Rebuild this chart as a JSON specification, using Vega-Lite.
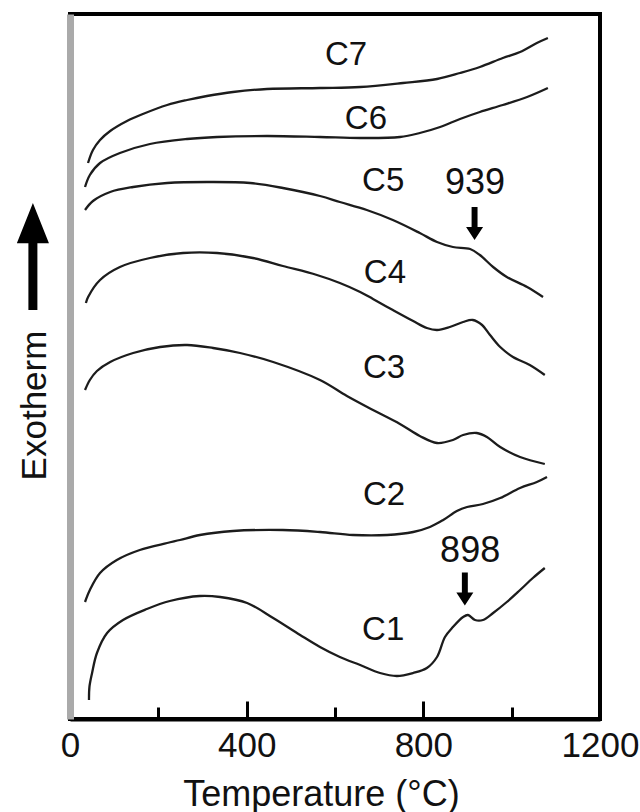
{
  "$schema": "https://vega.github.io/schema/vega-lite/v6.json",
  "autosize": {"type": "none"},
  "padding": {"left": 70, "top": 14, "right": 40, "bottom": 93},
  "width": 530,
  "height": 705,
  "config": {
    "font": "Liberation Sans",
    "view": {"stroke": "#000000", "strokeWidth": 4}
  },
  "datasets": {
    "curves": [
      {"s": "C7", "t": 40.8, "v": 556}, {"s": "C7", "t": 52, "v": 569}, {"s": "C7", "t": 68, "v": 579}, {"s": "C7", "t": 91, "v": 588}, {"s": "C7", "t": 129, "v": 598}, {"s": "C7", "t": 165, "v": 605}, {"s": "C7", "t": 220, "v": 614}, {"s": "C7", "t": 265, "v": 619}, {"s": "C7", "t": 310, "v": 623}, {"s": "C7", "t": 369, "v": 627}, {"s": "C7", "t": 446, "v": 630}, {"s": "C7", "t": 566, "v": 631}, {"s": "C7", "t": 657, "v": 632}, {"s": "C7", "t": 754, "v": 636}, {"s": "C7", "t": 831, "v": 640}, {"s": "C7", "t": 883, "v": 646}, {"s": "C7", "t": 928, "v": 652}, {"s": "C7", "t": 980, "v": 661}, {"s": "C7", "t": 1019, "v": 667}, {"s": "C7", "t": 1057, "v": 676}, {"s": "C7", "t": 1082, "v": 681},
      {"s": "C6", "t": 34, "v": 532}, {"s": "C6", "t": 45, "v": 544}, {"s": "C6", "t": 68, "v": 556}, {"s": "C6", "t": 113, "v": 566}, {"s": "C6", "t": 181, "v": 575}, {"s": "C6", "t": 265, "v": 580}, {"s": "C6", "t": 333, "v": 582}, {"s": "C6", "t": 446, "v": 583}, {"s": "C6", "t": 566, "v": 582}, {"s": "C6", "t": 657, "v": 581}, {"s": "C6", "t": 747, "v": 582}, {"s": "C6", "t": 792, "v": 586}, {"s": "C6", "t": 838, "v": 592}, {"s": "C6", "t": 883, "v": 600}, {"s": "C6", "t": 928, "v": 607}, {"s": "C6", "t": 980, "v": 614}, {"s": "C6", "t": 1035, "v": 622}, {"s": "C6", "t": 1082, "v": 631},
      {"s": "C5", "t": 34, "v": 509}, {"s": "C5", "t": 52, "v": 518}, {"s": "C5", "t": 91, "v": 527}, {"s": "C5", "t": 143, "v": 532}, {"s": "C5", "t": 220, "v": 536}, {"s": "C5", "t": 310, "v": 537}, {"s": "C5", "t": 408, "v": 536}, {"s": "C5", "t": 482, "v": 531}, {"s": "C5", "t": 566, "v": 523}, {"s": "C5", "t": 611, "v": 517}, {"s": "C5", "t": 672, "v": 509}, {"s": "C5", "t": 731, "v": 499}, {"s": "C5", "t": 792, "v": 486}, {"s": "C5", "t": 831, "v": 477}, {"s": "C5", "t": 867, "v": 472}, {"s": "C5", "t": 906, "v": 470}, {"s": "C5", "t": 928, "v": 464}, {"s": "C5", "t": 958, "v": 452}, {"s": "C5", "t": 989, "v": 442}, {"s": "C5", "t": 1035, "v": 432}, {"s": "C5", "t": 1071, "v": 422},
      {"s": "C4", "t": 36, "v": 416}, {"s": "C4", "t": 41, "v": 422}, {"s": "C4", "t": 68, "v": 439}, {"s": "C4", "t": 113, "v": 452}, {"s": "C4", "t": 181, "v": 461}, {"s": "C4", "t": 256, "v": 466}, {"s": "C4", "t": 333, "v": 466}, {"s": "C4", "t": 414, "v": 461}, {"s": "C4", "t": 482, "v": 453}, {"s": "C4", "t": 559, "v": 444}, {"s": "C4", "t": 611, "v": 436}, {"s": "C4", "t": 657, "v": 427}, {"s": "C4", "t": 686, "v": 420}, {"s": "C4", "t": 731, "v": 409}, {"s": "C4", "t": 777, "v": 398}, {"s": "C4", "t": 808, "v": 391}, {"s": "C4", "t": 831, "v": 389}, {"s": "C4", "t": 860, "v": 392}, {"s": "C4", "t": 890, "v": 397}, {"s": "C4", "t": 912, "v": 399}, {"s": "C4", "t": 933, "v": 394}, {"s": "C4", "t": 951, "v": 384}, {"s": "C4", "t": 974, "v": 372}, {"s": "C4", "t": 1003, "v": 362}, {"s": "C4", "t": 1041, "v": 354}, {"s": "C4", "t": 1075, "v": 344},
      {"s": "C3", "t": 34, "v": 329}, {"s": "C3", "t": 45, "v": 339}, {"s": "C3", "t": 61, "v": 348}, {"s": "C3", "t": 91, "v": 357}, {"s": "C3", "t": 143, "v": 366}, {"s": "C3", "t": 204, "v": 372}, {"s": "C3", "t": 265, "v": 374}, {"s": "C3", "t": 324, "v": 371}, {"s": "C3", "t": 385, "v": 366}, {"s": "C3", "t": 460, "v": 357}, {"s": "C3", "t": 566, "v": 339}, {"s": "C3", "t": 627, "v": 323}, {"s": "C3", "t": 686, "v": 309}, {"s": "C3", "t": 747, "v": 295}, {"s": "C3", "t": 792, "v": 283}, {"s": "C3", "t": 831, "v": 276}, {"s": "C3", "t": 867, "v": 279}, {"s": "C3", "t": 890, "v": 284}, {"s": "C3", "t": 921, "v": 286}, {"s": "C3", "t": 944, "v": 282}, {"s": "C3", "t": 974, "v": 272}, {"s": "C3", "t": 1019, "v": 262}, {"s": "C3", "t": 1075, "v": 255},
      {"s": "C2", "t": 34, "v": 117}, {"s": "C2", "t": 45, "v": 129}, {"s": "C2", "t": 68, "v": 146}, {"s": "C2", "t": 106, "v": 159}, {"s": "C2", "t": 158, "v": 169}, {"s": "C2", "t": 220, "v": 176}, {"s": "C2", "t": 249, "v": 179}, {"s": "C2", "t": 294, "v": 184}, {"s": "C2", "t": 369, "v": 188}, {"s": "C2", "t": 482, "v": 189}, {"s": "C2", "t": 566, "v": 187}, {"s": "C2", "t": 641, "v": 184}, {"s": "C2", "t": 718, "v": 184}, {"s": "C2", "t": 777, "v": 187}, {"s": "C2", "t": 815, "v": 192}, {"s": "C2", "t": 845, "v": 199}, {"s": "C2", "t": 876, "v": 208}, {"s": "C2", "t": 899, "v": 212}, {"s": "C2", "t": 935, "v": 215}, {"s": "C2", "t": 974, "v": 221}, {"s": "C2", "t": 1019, "v": 231}, {"s": "C2", "t": 1057, "v": 237}, {"s": "C2", "t": 1080, "v": 242},
      {"s": "C1", "t": 43, "v": 19}, {"s": "C1", "t": 44, "v": 32}, {"s": "C1", "t": 50, "v": 46}, {"s": "C1", "t": 61, "v": 66}, {"s": "C1", "t": 84, "v": 86}, {"s": "C1", "t": 120, "v": 99}, {"s": "C1", "t": 174, "v": 110}, {"s": "C1", "t": 226, "v": 118}, {"s": "C1", "t": 294, "v": 123}, {"s": "C1", "t": 340, "v": 122}, {"s": "C1", "t": 401, "v": 116}, {"s": "C1", "t": 460, "v": 101}, {"s": "C1", "t": 521, "v": 84}, {"s": "C1", "t": 566, "v": 72}, {"s": "C1", "t": 611, "v": 62}, {"s": "C1", "t": 657, "v": 54}, {"s": "C1", "t": 702, "v": 46}, {"s": "C1", "t": 740, "v": 43}, {"s": "C1", "t": 777, "v": 46}, {"s": "C1", "t": 808, "v": 51}, {"s": "C1", "t": 831, "v": 62}, {"s": "C1", "t": 849, "v": 82}, {"s": "C1", "t": 867, "v": 92}, {"s": "C1", "t": 890, "v": 102}, {"s": "C1", "t": 901, "v": 104}, {"s": "C1", "t": 917, "v": 99}, {"s": "C1", "t": 935, "v": 99}, {"s": "C1", "t": 958, "v": 106}, {"s": "C1", "t": 989, "v": 117}, {"s": "C1", "t": 1019, "v": 129}, {"s": "C1", "t": 1048, "v": 141}, {"s": "C1", "t": 1075, "v": 151}
    ],
    "curveLabels": [
      {"t": 625, "v": 664, "text": "C7"},
      {"t": 670, "v": 600, "text": "C6"},
      {"t": 709, "v": 538, "text": "C5"},
      {"t": 713, "v": 446, "text": "C4"},
      {"t": 711, "v": 351, "text": "C3"},
      {"t": 711, "v": 224, "text": "C2"},
      {"t": 709, "v": 89, "text": "C1"}
    ],
    "peakLabels": [
      {"t": 917, "v": 536, "text": "939"},
      {"t": 906, "v": 168, "text": "898"}
    ],
    "peakArrows": [
      {"t": 916, "v": 495.5},
      {"t": 894, "v": 130}
    ],
    "exoArrow": [
      {"t": -84, "v": 462.5}
    ]
  },
  "encoding": {
    "x": {
      "field": "t",
      "type": "quantitative",
      "scale": {"domain": [0, 1200], "nice": false, "zero": false},
      "axis": {
        "values": [0, 200, 400, 600, 800, 1000, 1200],
        "format": "d",
        "grid": false,
        "domainColor": "#000000",
        "domainWidth": 4,
        "tickColor": "#000000",
        "tickWidth": 3,
        "tickSize": {"condition": {"test": "datum.value % 400 === 0", "value": -18}, "value": -12},
        "labelExpr": "datum.value % 400 === 0 ? datum.label : ''",
        "labelFlush": false,
        "labelFontSize": 35,
        "labelColor": "#111111",
        "labelPadding": 27,
        "labelFont": "Liberation Sans",
        "title": "Temperature (°C)",
        "titleFontSize": 36,
        "titleFontWeight": "normal",
        "titleColor": "#111111",
        "titleX": 251,
        "titleY": 86,
        "titleAlign": "center",
        "titleBaseline": "alphabetic"
      }
    },
    "y": {
      "field": "v",
      "type": "quantitative",
      "scale": {"domain": [0, 705], "nice": false, "zero": false},
      "axis": {
        "ticks": false,
        "labels": false,
        "grid": false,
        "domainColor": "#aaaaaa",
        "domainWidth": 7,
        "title": "Exotherm",
        "titleFontSize": 35,
        "titleFontWeight": "normal",
        "titleColor": "#111111",
        "titleAngle": -90,
        "titleX": -25,
        "titleY": 391,
        "titleAlign": "center",
        "titleBaseline": "alphabetic"
      }
    }
  },
  "layer": [
    {
      "data": {"name": "curves"},
      "mark": {"type": "line", "interpolate": "catmull-rom", "color": "#1c1c1c", "strokeWidth": 2.3},
      "encoding": {"detail": {"field": "s", "type": "nominal"}}
    },
    {
      "data": {"name": "curveLabels"},
      "mark": {"type": "text", "fontSize": 33, "color": "#111111", "align": "center", "baseline": "middle"},
      "encoding": {"text": {"field": "text", "type": "nominal"}}
    },
    {
      "data": {"name": "peakLabels"},
      "mark": {"type": "text", "fontSize": 36, "color": "#111111", "align": "center", "baseline": "middle"},
      "encoding": {"text": {"field": "text", "type": "nominal"}}
    },
    {
      "data": {"name": "peakArrows"},
      "mark": {"type": "point", "filled": true, "opacity": 1, "color": "#000000", "strokeWidth": 0, "size": 1089, "shape": "M0,1L0.515,0.21L0.18,0.21L0.18,-1L-0.18,-1L-0.18,0.21L-0.515,0.21Z"}
    },
    {
      "data": {"name": "exoArrow"},
      "mark": {"type": "point", "filled": true, "opacity": 1, "color": "#000000", "strokeWidth": 0, "size": 11449, "shape": "M0,-1L0.3,-0.25L0.084,-0.25L0.084,1L-0.084,1L-0.084,-0.25L-0.3,-0.25Z"}
    }
  ]
}
